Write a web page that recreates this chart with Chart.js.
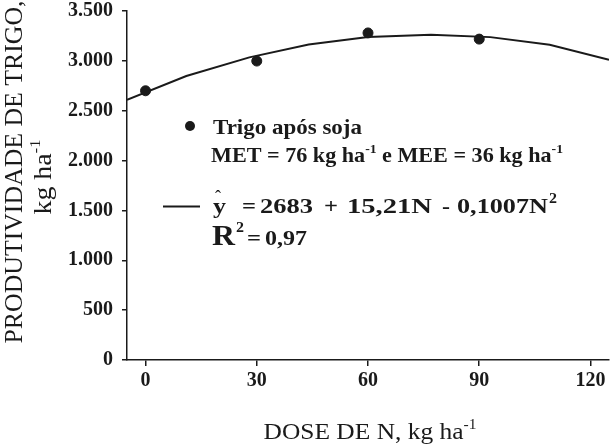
<!DOCTYPE html>
<html>
<head>
<meta charset="utf-8">
<script src="https://cdn.jsdelivr.net/npm/chart.js@4/dist/chart.umd.min.js"></script>
<style>
  html, body { margin: 0; padding: 0; background: #fff; }
  #wrap { width: 615px; height: 444px; position: relative; }
</style>
</head>
<body>
<div id="wrap"><canvas id="myChart"></canvas></div>
<script>
// observed means, wheat after soybean
const doses = [0, 30, 60, 90];
const yields = [2700, 2998, 3280, 3218];

// fitted curve
const fitDoses = [-5, 11, 28, 44, 60, 77, 93, 109, 125];
const fitYields = [2610, 2848, 3035, 3165, 3240, 3262, 3238, 3162, 3012];

const xTicks = [0, 30, 60, 90, 120];
const yTicks = [0, 500, 1000, 1500, 2000, 2500, 3000, 3500];

const INK = '#1a1a1a';
const SERIF = '"Liberation Serif", "Times New Roman", serif';

function fmtThousands(v) {
  return String(v).replace(/\B(?=(\d{3})+(?!\d))/g, '.');
}

function setFont(ctx, p) {
  ctx.font = (p.bold ? 'bold ' : '') + p.size + 'px ' + SERIF;
}

// draw a run of text pieces, stretched horizontally to a target width
function drawRun(ctx, parts, x, y, width, align) {
  let natural = 0;
  parts.forEach(p => {
    setFont(ctx, p);
    natural += ctx.measureText(p.t).width;
  });
  const k = width ? width / natural : 1;
  ctx.save();
  ctx.translate(align === 'center' ? x - natural * k / 2 : x, y);
  ctx.scale(k, 1);
  let cx = 0;
  parts.forEach(p => {
    setFont(ctx, p);
    ctx.fillText(p.t, cx, -(p.rise || 0));
    cx += ctx.measureText(p.t).width;
  });
  ctx.restore();
}

const annotations = {
  id: 'annotations',
  afterDraw(chart) {
    const ctx = chart.ctx;
    ctx.save();
    ctx.fillStyle = INK;
    ctx.strokeStyle = INK;
    ctx.textAlign = 'left';
    ctx.textBaseline = 'alphabetic';

    // legend glyphs
    ctx.beginPath();
    ctx.arc(190, 126, 5, 0, Math.PI * 2);
    ctx.fill();
    ctx.lineWidth = 2;
    ctx.beginPath();
    ctx.moveTo(163, 206.5);
    ctx.lineTo(200, 206.5);
    ctx.stroke();

    drawRun(ctx, [{ t: 'Trigo após soja', size: 21, bold: true }], 213, 134, 149);
    drawRun(ctx, [
      { t: 'MET = 76 kg ha', size: 21, bold: true },
      { t: '-1', size: 13, bold: true, rise: 9 },
      { t: ' e MEE = 36 kg ha', size: 21, bold: true },
      { t: '-1', size: 13, bold: true, rise: 9 }
    ], 211, 162, 352);

    // regression equation
    const B = 213;
    drawRun(ctx, [{ t: 'y', size: 22, bold: true }], 213, B, 13);
    drawRun(ctx, [{ t: 'ˆ', size: 18 }], 215, B - 10, 0);
    drawRun(ctx, [{ t: '=', size: 22, bold: true }], 242, B, 14);
    drawRun(ctx, [{ t: '2683', size: 22, bold: true }], 260, B, 53);
    drawRun(ctx, [{ t: '+', size: 22, bold: true }], 324, B, 14);
    drawRun(ctx, [{ t: '15,21N', size: 22, bold: true }], 347, B, 85);
    drawRun(ctx, [{ t: '-', size: 22, bold: true }], 442, B, 8);
    drawRun(ctx, [{ t: '0,1007N', size: 22, bold: true }], 457, B, 91);
    drawRun(ctx, [{ t: '2', size: 14, bold: true, rise: 10 }], 549, B, 8);

    drawRun(ctx, [{ t: 'R', size: 29, bold: true }], 212, 245, 23);
    drawRun(ctx, [{ t: '2', size: 14, bold: true, rise: 13 }], 236, 245, 8);
    drawRun(ctx, [{ t: '=', size: 22, bold: true }], 247, 245, 14);
    drawRun(ctx, [{ t: '0,97', size: 22, bold: true }], 265, 245, 42);

    // axis titles
    drawRun(ctx, [
      { t: 'DOSE DE N, kg ha', size: 23 },
      { t: '-1', size: 14, rise: 10 }
    ], 370, 439, 213, 'center');

    ctx.save();
    ctx.translate(22, 172);
    ctx.rotate(-Math.PI / 2);
    drawRun(ctx, [{ t: 'PRODUTIVIDADE DE TRIGO,', size: 25 }], 0, 0, 343, 'center');
    ctx.restore();

    ctx.save();
    ctx.translate(51, 177);
    ctx.rotate(-Math.PI / 2);
    drawRun(ctx, [
      { t: 'kg ha', size: 25 },
      { t: '-1', size: 15, rise: 11 }
    ], 0, 0, 75, 'center');
    ctx.restore();

    ctx.restore();
  }
};

const ctx = document.getElementById('myChart');

const myChart = new Chart(ctx, {
  data: {
    datasets: [
      {
        type: 'line',
        label: 'ajuste',
        data: fitDoses.map((d, i) => ({ x: d, y: fitYields[i] })),
        borderColor: INK,
        borderWidth: 2,
        pointRadius: 0,
        tension: 0,
        order: 2
      },
      {
        type: 'scatter',
        label: 'Trigo após soja',
        data: doses.map((d, i) => ({ x: d, y: yields[i] })),
        backgroundColor: INK,
        borderColor: INK,
        pointRadius: 5,
        order: 1
      }
    ]
  },
  options: {
    responsive: true,
    maintainAspectRatio: false,
    animation: false,
    layout: { padding: { top: 11, right: 2, left: 0, bottom: 0 } },
    plugins: {
      legend: { display: false },
      tooltip: { enabled: false }
    },
    scales: {
      x: {
        type: 'linear',
        min: -5,
        max: 125,
        afterBuildTicks: (scale) => { scale.ticks = xTicks.map(v => ({ value: v })); },
        afterFit: (scale) => {
          scale.height = 84;
          scale.paddingLeft = 0;
          scale.paddingRight = 0;
        },
        border: { display: true, color: INK, width: 1.5 },
        grid: { drawOnChartArea: false, drawTicks: true, tickLength: 6, color: INK, lineWidth: 1.5 },
        ticks: {
          color: INK,
          padding: 3,
          maxRotation: 0,
          font: { family: SERIF, weight: 'bold', size: 20 }
        }
      },
      y: {
        type: 'linear',
        min: 0,
        max: 3500,
        afterBuildTicks: (scale) => { scale.ticks = yTicks.map(v => ({ value: v })); },
        afterFit: (scale) => {
          scale.width = 127;
          scale.paddingTop = 0;
          scale.paddingBottom = 0;
        },
        border: { display: true, color: INK, width: 1.5 },
        grid: { drawOnChartArea: false, drawTicks: true, tickLength: 5, color: INK, lineWidth: 1.5 },
        ticks: {
          color: INK,
          padding: 9,
          font: { family: SERIF, weight: 'bold', size: 20 },
          callback: (v) => fmtThousands(v)
        }
      }
    }
  },
  plugins: [annotations]
});
</script>
</body>
</html>
